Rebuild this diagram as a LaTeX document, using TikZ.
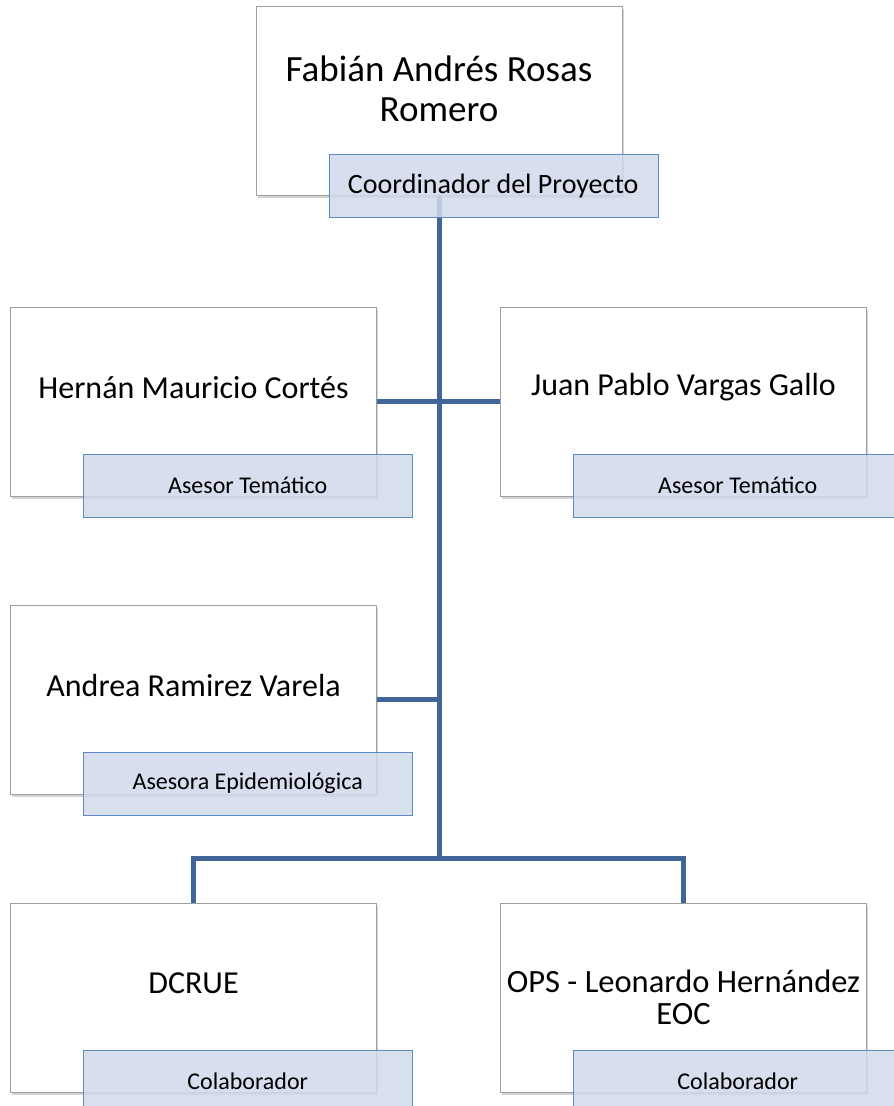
\documentclass[tikz,border=0pt]{standalone}
\usepackage{fontspec}
\setmainfont{Carlito}
\usetikzlibrary{calc,shadows}
\definecolor{trunk}{HTML}{41679A}
\definecolor{rolefill}{HTML}{D1D9EA}
\definecolor{roleline}{HTML}{5B8CC8}
\tikzstyle{person}=[draw=gray!75, fill=white, minimum width=366pt, minimum height=189pt, inner sep=0pt, drop shadow={shadow xshift=1.5pt, shadow yshift=-2.5pt, opacity=0.35}]
\tikzstyle{fullname}=[font=\fontsize{32}{30}\selectfont, align=center]
\tikzstyle{role}=[draw=roleline, fill=rolefill, fill opacity=0.85, text opacity=1, minimum width=329pt, minimum height=63pt, inner sep=0pt, font=\fontsize{24}{28}\selectfont]
\tikzstyle{link}=[draw=trunk, line width=5pt]

\begin{document}
\begin{tikzpicture}[x=1pt,y=-1pt]
\useasboundingbox (0,0) rectangle (894,1106);
\node[person] (fabian) at (439,101) {};
\node[person] (hernan) at (193.5,401.5) {};
\node[person] (juan) at (683.5,401.5) {};
\node[person] (andrea) at (193.5,699.5) {};
\node[person] (dcrue) at (193.5,997.5) {};
\node[person] (ops) at (683.5,997.5) {};
\node[fullname, font=\fontsize{37}{40}\selectfont] at ($(fabian)+(0,-12)$) {Fabián Andrés Rosas\\Romero};
\node[fullname] at ($(hernan)+(0,-14)$) {Hernán Mauricio Cortés};
\node[fullname] at ($(juan)+(0,-14)$) {Juan Pablo Vargas Gallo};
\node[fullname] at ($(andrea)+(0,-14)$) {Andrea Ramirez Varela};
\node[fullname] at ($(dcrue)+(0,-14)$) {DCRUE};
\node[fullname, font=\fontsize{32.5}{32}\selectfont] at ($(ops)+(0,0)$) {OPS - Leonardo Hernández\\EOC};
\coordinate (j4) at (fabian.south |- 0,858);
\coordinate (j3) at (fabian.south |- andrea.east);
\draw[link] (fabian.south) -- (j4);
\draw[link] (hernan.east) -- (juan.west);
\draw[link] (andrea.east) -- (j3);
\draw[link] (dcrue.north) |- (j4) -| (ops.north);
\node[role, font=\fontsize{28}{32}\selectfont] at ($(fabian.south east)+(-129,-10)$) {Coordinador del Proyecto};
\node[role] at ($(hernan.south east)+(-129,-11)$) {Asesor Temático};
\node[role] at ($(juan.south east)+(-129,-11)$) {Asesor Temático};
\node[role] at ($(andrea.south east)+(-129,-11)$) {Asesora Epidemiológica};
\node[role] at ($(dcrue.south east)+(-129,-11)$) {Colaborador};
\node[role] at ($(ops.south east)+(-129,-11)$) {Colaborador};
\end{tikzpicture}
\end{document}
